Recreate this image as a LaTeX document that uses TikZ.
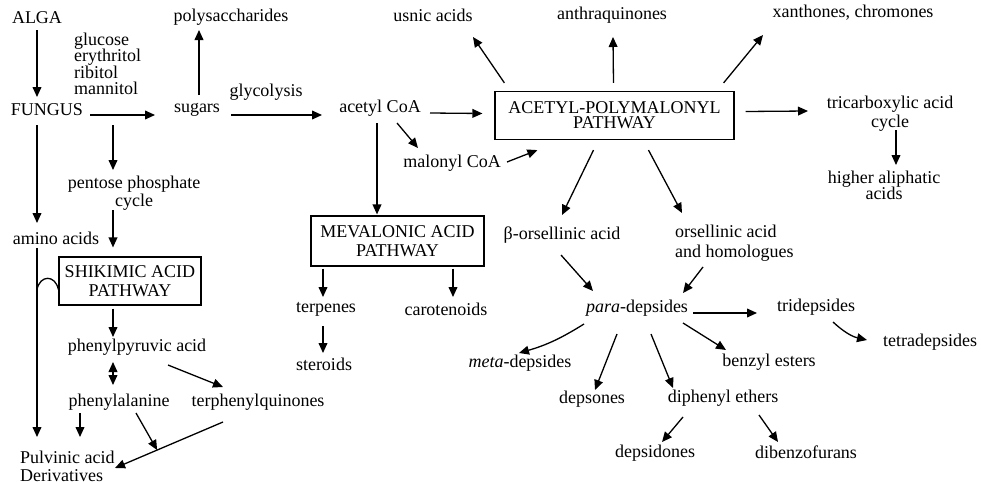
\documentclass[tikz,border=0pt]{standalone}
\usepackage{fontspec}
\setmainfont{Liberation Serif}
\usetikzlibrary{arrows.meta, positioning, calc}

\begin{document}
\begin{tikzpicture}[x=0.5pt, y=-0.5pt,
    every node/.style={font=\fontsize{9}{9}\selectfont, align=center},
    pathbox/.style={draw, rectangle, line width=0.6pt, inner sep=0pt, font=\fontsize{9}{9.5}\selectfont},
    arr/.style={-{Triangle[length=5pt, width=4.4pt]}, line width=0.65pt},
    dblarr/.style={{Triangle[length=5pt, width=4.4pt]}-{Triangle[length=5pt, width=4.4pt]}, line width=0.65pt}]
    \useasboundingbox (0,0) rectangle (981,482);

    % Alga y hongo
    \node (alga) at (37,18) {ALGA};
    \node [align=left, anchor=west, font=\fontsize{9}{8.25}\selectfont] (polyols) at (67,64) {glucose\\erythritol\\ribitol\\mannitol};
    \node (fungus) at (47,110) {FUNGUS};
    \node (sugars) at (197,110) {sugars};
    \node (polysac) at (231,17) {polysaccharides};
    \node (glycol) at (266,92) {glycolysis};
    \node (acetyl) at (380,108) {acetyl CoA};
    \node (malonyl) at (452,163) {malonyl CoA};
    \draw[arr] ($(alga)+(0,12)$) -- ($(fungus)+(-10,-13)$);
    \draw[arr] ($(fungus)+(43,5)$) -- ($(sugars)+(-42,5)$);
    \draw[arr] ($(sugars)+(2,-15)$) -- ($(polysac)+(-32,13)$);
    \draw[arr] ($(sugars)+(34,5)$) -- ($(acetyl)+(-58,7)$);

    % Acetil-polimalonil
    \node [pathbox, minimum width=119.5pt, minimum height=24pt] (acetylpw) at (614.5,115.5) {ACETYL-POLYMALONYL\\[-2pt]PATHWAY};
    \node (usnic) at (433,15) {usnic acids};
    \node (anthra) at (612,15) {anthraquinones};
    \node (xanth) at (853,13) {xanthones, chromones};
    \node (tca) at (890,113.5) {tricarboxylic acid\\[0.5pt]cycle};
    \node (aliph) at (884,185) {higher aliphatic\\[-1pt]acids};
    \draw[arr] ($(acetyl)+(50,5)$) -- ($(acetylpw.west)+(-12,-2)$);
    \draw[arr] ($(acetyl)+(17,15)$) -- ($(malonyl)+(-34,-15)$);
    \draw[arr] ($(malonyl)+(55,-1)$) -- ($(acetylpw.south west)+(43,10)$);
    \draw[arr] ($(acetylpw.north west)+(10,-8)$) -- ($(usnic)+(40,22)$);
    \draw[arr] ($(acetylpw.north)+(-1,-8)$) -- ($(anthra)+(1,22)$);
    \draw[arr] ($(acetylpw.north east)+(-11,-8)$) -- ($(xanth)+(-90,22)$);
    \draw[arr] ($(acetylpw.east)+(11,-4)$) -- ($(tca)+(-82,-2.5)$);
    \draw[arr] ($(tca)+(6,16.5)$) -- ($(aliph)+(12,-20)$);

    % Mevalonato
    \node [pathbox, minimum width=86.5pt, minimum height=25pt] (mevpw) at (397.5,241) {MEVALONIC ACID\\PATHWAY};
    \node (terp) at (326,309) {terpenes};
    \node (carot) at (446,309) {carotenoids};
    \node (steroid) at (324,364) {steroids};
    \draw[arr] ($(acetyl)+(-3,15)$) -- ($(mevpw.north)+(-20.5,-1)$);
    \draw[arr] ($(mevpw.south)+(-74.5,2)$) -- ($(terp)+(-3,-12)$);
    \draw[arr] ($(mevpw.south)+(55.5,2)$) -- ($(carot)+(7,-12)$);
    \draw[arr] ($(terp)+(-3,17)$) -- ($(steroid)+(-1,-11)$);

    % Shikimato
    \node (amino) at (56,238) {amino acids};
    \node (pentose) at (134,193.5) {pentose phosphate\\cycle};
    \node [pathbox, minimum width=71pt, minimum height=24pt] (shikpw) at (130,281) {SHIKIMIC ACID\\PATHWAY};
    \node (phpyr) at (137,347) {phenylpyruvic acid};
    \node (phala) at (119,402) {phenylalanine};
    \node (terphq) at (258,402) {terphenylquinones};
    \node [align=left, anchor=west] (pulvinic) at (13,466) {Pulvinic acid\\Derivatives};
    \draw[arr] ($(fungus)+(-10,15)$) -- ($(amino)+(-19,-15)$);
    \draw[arr] ($(fungus)+(66,15)$) -- ($(pentose)+(-21,-23.5)$);
    \draw[arr] ($(pentose)+(-21,16.5)$) -- ($(shikpw.north)+(-17,-9)$);
    \draw[arr] ($(amino)+(-19,10)$) -- coordinate[pos=0.22] (hop) ($(pulvinic.west)+(24,-29)$);
    \draw[line width=0.65pt] (hop) .. controls +(3,-15) and +(-3,-15) .. (shikpw.west |- hop);
    \draw[arr] ($(shikpw.south)+(-17,3)$) -- ($(phpyr)+(-24,-10)$);
    \draw[dblarr] ($(phpyr)+(-24,15)$) -- ($(phala)+(-6,-17)$);
    \draw[arr] ($(phpyr)+(31,18)$) -- ($(terphq)+(-35,-15)$);
    \draw[arr] ($(phala)+(-39,11)$) -- ($(pulvinic.west)+(67,-29)$);
    \draw[arr] ($(terphq)+(-35,20)$) -- coordinate[pos=0.61] (join) ($(pulvinic.west)+(102,2)$);
    \draw[arr] ($(phala)+(17,11)$) -- (join);

    % Depsidos
    \node (borsel) at (562,235) {β-orsellinic acid};
    \node [align=left, anchor=west] (orsel) at (668,243) {orsellinic acid\\[1pt]and homologues};
    \node (para) at (637,308) {\textit{para}-depsides};
    \node (tridep) at (816,307) {tridepsides};
    \node (tetradep) at (930,342) {tetradepsides};
    \node (benzyl) at (769,362) {benzyl esters};
    \node (meta) at (520,363) {\textit{meta}-depsides};
    \node (depsones) at (592,399) {depsones};
    \node (diphen) at (723,398) {diphenyl ethers};
    \node (depsidones) at (655,453) {depsidones};
    \node (dibenzo) at (806,452) {dibenzofurans};
    \draw[arr] ($(acetylpw.south)+(-21,10)$) -- ($(borsel)+(0,-20)$);
    \draw[arr] ($(acetylpw.south)+(34,10)$) -- ($(orsel.west)+(14,-30)$);
    \draw[arr] ($(borsel)+(-1,20)$) -- ($(para)+(-44,-17)$);
    \draw[arr] ($(orsel.west)+(35,24)$) -- ($(para)+(46,-15)$);
    \draw[arr] ($(para)+(56,5)$) -- ($(tridep)+(-59,6)$);
    \draw[arr] ($(tridep)+(17,15)$) to[bend right=15] ($(tetradep)+(-63,-2)$);
    \draw[arr] ($(para)+(46,15)$) -- ($(benzyl)+(-43,-12)$);
    \draw[arr] ($(para)+(-53,16)$) to[bend left=8] ($(meta)+(-1,-10)$);
    \draw[arr] ($(para)+(-20,26)$) -- ($(depsones)+(3,-9)$);
    \draw[arr] ($(para)+(14,26)$) -- ($(diphen)+(-50,-10)$);
    \draw[arr] ($(diphen)+(-40,19)$) -- ($(depsidones)+(7,-11)$);
    \draw[arr] ($(diphen)+(36,17)$) -- ($(dibenzo)+(-28,-10)$);
\end{tikzpicture}
\end{document}
